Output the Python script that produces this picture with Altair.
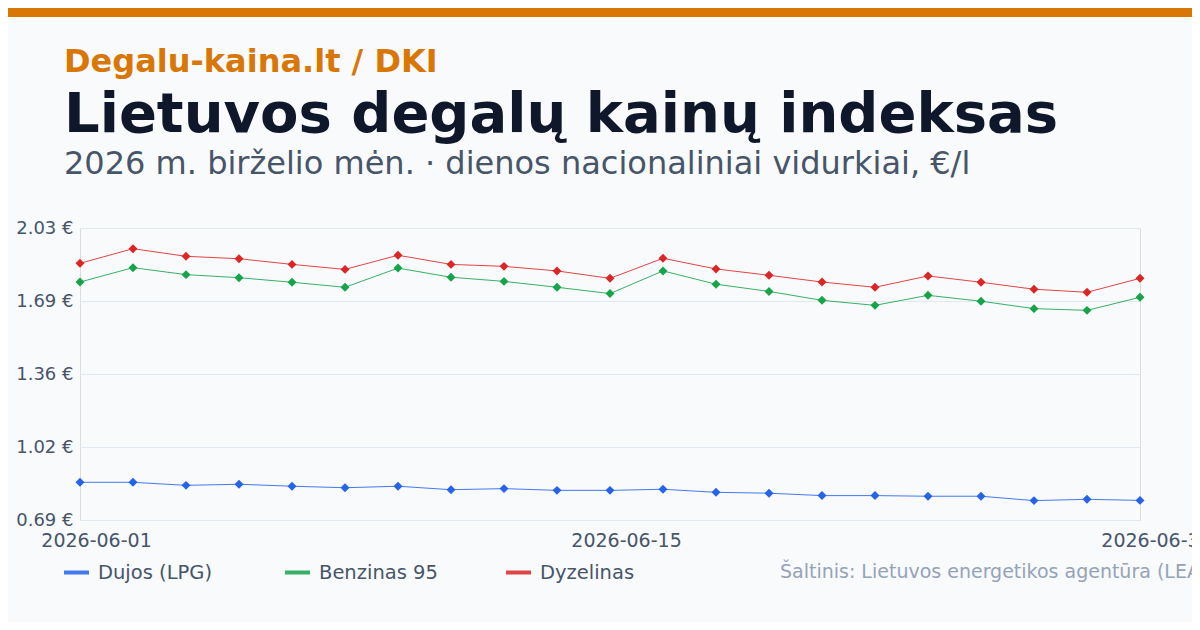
import altair as alt
import pandas as pd

# ---- data ----
dates = ["2026-06-01", "2026-06-02", "2026-06-03", "2026-06-04", "2026-06-05",
         "2026-06-08", "2026-06-09", "2026-06-10", "2026-06-11", "2026-06-12",
         "2026-06-15", "2026-06-16", "2026-06-17", "2026-06-18", "2026-06-19",
         "2026-06-22", "2026-06-23", "2026-06-25", "2026-06-26", "2026-06-29", "2026-06-30"]
lpg = [0.863, 0.863, 0.849, 0.854, 0.845, 0.838, 0.845, 0.829, 0.834, 0.826, 0.826,
       0.831, 0.817, 0.813, 0.802, 0.802, 0.799, 0.799, 0.779, 0.785, 0.780]
benzinas = [1.782, 1.848, 1.816, 1.802, 1.781, 1.758, 1.846, 1.804, 1.785, 1.758, 1.729,
            1.833, 1.772, 1.739, 1.698, 1.675, 1.721, 1.694, 1.660, 1.652, 1.712]
dyzelinas = [1.868, 1.935, 1.900, 1.889, 1.863, 1.840, 1.905, 1.863, 1.854, 1.833, 1.799,
             1.891, 1.842, 1.813, 1.782, 1.758, 1.810, 1.781, 1.749, 1.735, 1.799]
series = ["Dujos (LPG)", "Benzinas 95", "Dyzelinas"]
colors = ["#2563eb", "#16a34a", "#dc2626"]
y_ticks = [0.69, 1.0249, 1.3599, 1.6949, 2.03]
x_label_dates = ["2026-06-01", "2026-06-15", "2026-06-30"]

brand = "Degalu-kaina.lt / DKI"
title = "Lietuvos degalų kainų indeksas"
subtitle = "2026 m. birželio mėn. · dienos nacionaliniai vidurkiai, €/l"
source = "Šaltinis: Lietuvos energetikos agentūra (LEA)"

# ---- build table ----
rows = []
for name, vals in zip(series, [lpg, benzinas, dyzelinas]):
    for d, v in zip(dates, vals):
        rows.append({"date": d, "fuel": name, "price": v})
df = pd.DataFrame(rows)

W, H = 1060, 292
FONT = "DejaVu Sans"

legend = alt.Legend(
    title=None, orient="none", legendX=-18, legendY=330, direction="horizontal",
    symbolType="stroke", symbolSize=625, symbolStrokeWidth=4, gridAlign="all",
    columnPadding=60, labelOffset=7, labelFontSize=19.5, labelColor="#475569",
    labelFont=FONT,
)

x_enc = alt.X(
    "date:O", sort=dates, title=None,
    scale=alt.Scale(type="point", padding=0),
    axis=alt.Axis(values=x_label_dates, labelAngle=0, ticks=False, domain=False,
                  grid=False, labelFontSize=19, labelColor="#475569", labelPadding=11,
                  labelOffset=16, labelFont=FONT),
)
y_enc = alt.Y(
    "price:Q", title=None,
    scale=alt.Scale(domain=[0.69, 2.03], nice=False, zero=False),
    axis=alt.Axis(values=y_ticks, labelExpr="format(datum.value, '.2f') + ' €'",
                  ticks=False, domain=False, grid=True, gridColor="#e2e8f0",
                  gridWidth=1, labelFontSize=18, labelColor="#475569",
                  labelPadding=7, labelFont=FONT),
)
color_enc = alt.Color("fuel:N", scale=alt.Scale(domain=series, range=colors), legend=legend)

base = alt.Chart(df)
lines = base.mark_line(strokeWidth=1, opacity=0.85).encode(x=x_enc, y=y_enc, color=color_enc, detail="fuel:N")
points = base.mark_point(shape="diamond", filled=True, size=80, opacity=1).encode(
    x=x_enc, y=y_enc, color=color_enc)

top_bar = alt.Chart(pd.DataFrame({"a": [0]})).mark_rect(color="#d97706").encode(
    x=alt.value(-72), x2=alt.value(1112), y=alt.value(-220), y2=alt.value(-211))

def header(text, size, weight, color, ypos):
    return alt.Chart(pd.DataFrame({"t": [text]})).mark_text(
        align="left", baseline="alphabetic", font=FONT, fontSize=size,
        fontWeight=weight, color=color,
    ).encode(x=alt.value(-16), y=alt.value(ypos), text="t:N")

brand_t = header(brand, 32, "bold", "#d97706", -156)
title_t = header(title, 56, "bold", "#0f172a", -96)
sub_t = header(subtitle, 32, "normal", "#475569", -54)
source_t = alt.Chart(pd.DataFrame({"t": [source]})).mark_text(
    align="left", baseline="middle", font=FONT, fontSize=19, color="#94a3b8",
).encode(x=alt.value(700), y=alt.value(344), text="t:N")

chart = alt.layer(top_bar, lines, points, brand_t, title_t, sub_t, source_t).properties(
    width=W, height=H,
    autosize=alt.AutoSizeParams(type="none"),
    padding={"left": 72, "top": 220, "right": 52, "bottom": 102},
    background="#f8fafc",
).configure_view(fill="white", strokeWidth=0, stroke="transparent").configure(font=FONT)

chart.save("out.html", embed_options={"renderer": "svg", "actions": False})
